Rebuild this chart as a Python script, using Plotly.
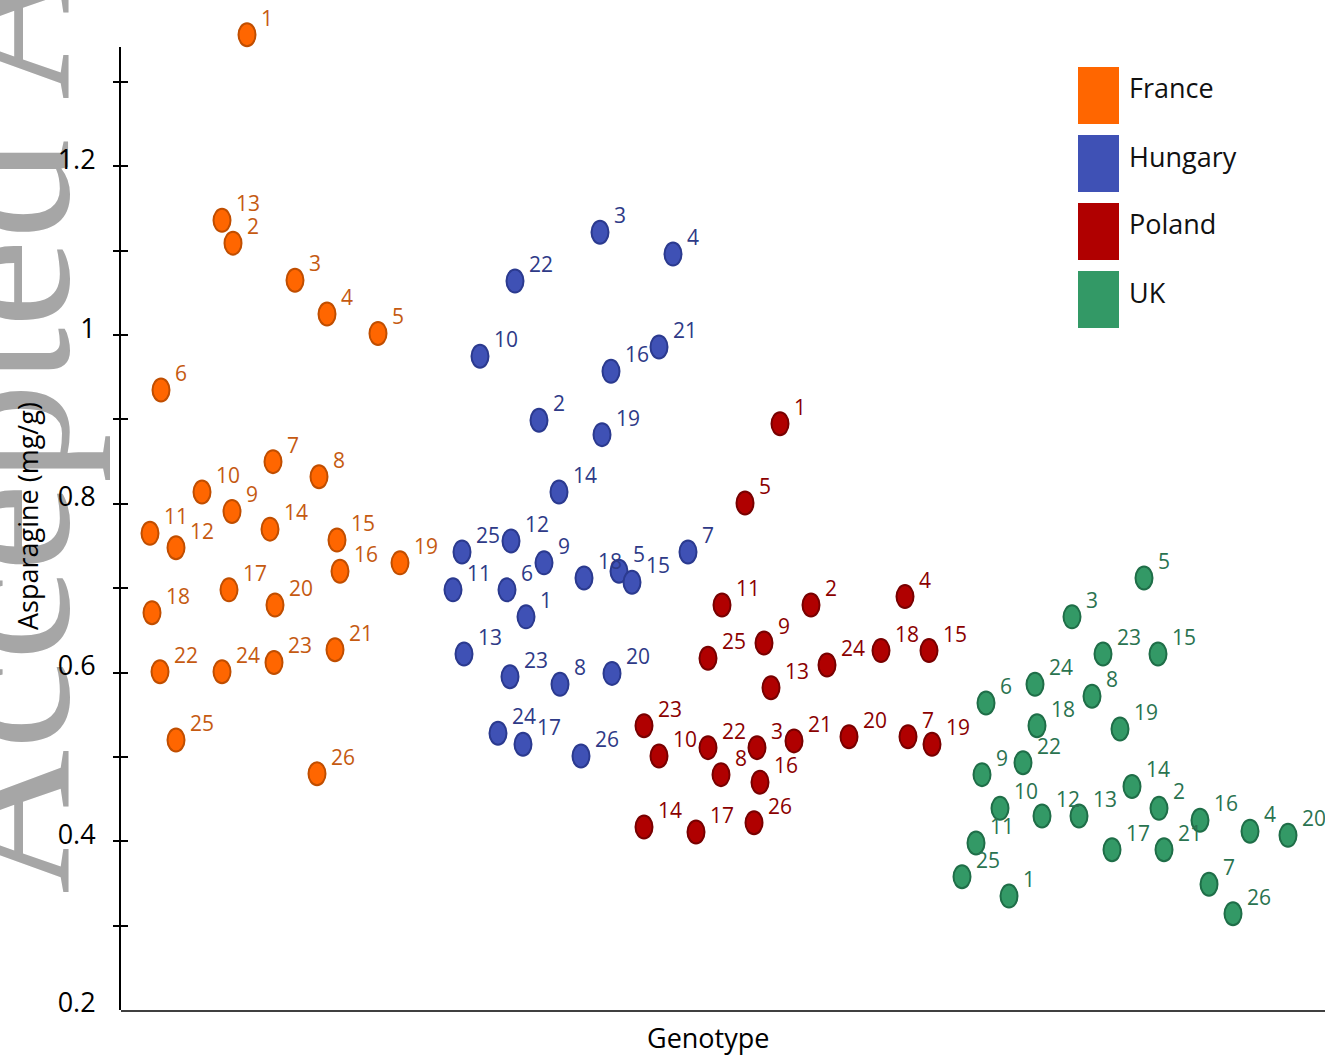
import plotly.graph_objects as go

# ---------------- data ----------------
countries = ["France", "Hungary", "Poland", "UK"]

france_ids = list(range(1, 27))
france_x = [12.6, 11.2, 17.4, 20.6, 25.7, 4.0, 15.2, 19.8, 11.1, 8.1, 2.9, 5.5, 10.1,
            14.9, 21.6, 21.9, 10.8, 3.1, 27.9, 15.4, 21.4, 3.9, 15.3, 10.1, 5.5, 19.6]
france_y = [1.356, 1.109, 1.065, 1.025, 1.002, 0.935, 0.850, 0.832, 0.791, 0.814, 0.765, 0.748, 1.136,
            0.770, 0.757, 0.720, 0.698, 0.671, 0.730, 0.680, 0.627, 0.601, 0.612, 0.601, 0.520, 0.480]

hungary_ids = list(range(1, 27))
hungary_x = [40.5, 41.8, 47.9, 55.2, 49.8, 38.6, 56.7, 43.9, 42.3, 35.9, 33.2, 39.0, 34.3,
             43.8, 51.1, 49.0, 40.2, 46.3, 48.1, 49.1, 53.8, 39.4, 38.9, 37.7, 34.1, 46.0]
hungary_y = [0.666, 0.899, 1.122, 1.096, 0.720, 0.698, 0.743, 0.586, 0.730, 0.975, 0.698, 0.756, 0.622,
             0.814, 0.707, 0.957, 0.515, 0.712, 0.882, 0.599, 0.986, 1.064, 0.595, 0.528, 0.743, 0.501]

poland_ids = [1, 2, 3, 4, 5, 7, 8, 9, 10, 11, 13, 14, 15, 16, 17, 18, 19, 20, 21, 22, 23, 24, 25, 26]
poland_x = [65.9, 69.0, 63.6, 78.4, 62.4, 78.7, 60.0, 64.3, 53.8, 60.1, 65.0, 52.3,
            80.8, 63.9, 57.5, 76.0, 81.1, 72.8, 67.3, 58.7, 52.3, 70.6, 58.7, 63.3]
poland_y = [0.895, 0.680, 0.511, 0.690, 0.801, 0.524, 0.479, 0.635, 0.501, 0.680, 0.582, 0.417,
            0.626, 0.470, 0.411, 0.626, 0.515, 0.524, 0.519, 0.511, 0.537, 0.609, 0.617, 0.422]

uk_ids = list(range(1, 27))
uk_x = [88.8, 103.8, 95.1, 112.9, 102.3, 86.5, 108.8, 97.1, 86.1, 87.9, 85.5, 92.1, 95.8,
        101.1, 103.7, 107.9, 99.1, 91.6, 99.9, 116.7, 104.3, 90.2, 98.2, 91.4, 84.1, 111.2]
uk_y = [0.335, 0.439, 0.666, 0.412, 0.712, 0.564, 0.349, 0.572, 0.479, 0.439, 0.398, 0.430, 0.430,
        0.465, 0.622, 0.425, 0.390, 0.537, 0.533, 0.407, 0.390, 0.493, 0.622, 0.586, 0.358, 0.314]

y_tick_values = [0.2, 0.4, 0.6, 0.8, 1.0, 1.2]
y_tick_labels = ["0.2", "0.4", "0.6", "0.8", "1", "1.2"]
y_minor_values = [0.3, 0.4, 0.5, 0.6, 0.7, 0.8, 0.9, 1.0, 1.1, 1.2, 1.3]

x_title = "Genotype"
y_title = "Asparagine (mg/g)"
watermark = "Accepted Article"

# ---------------- styles ----------------
fill_colors = ["#FF6600", "#3F51B5", "#B00000", "#339966"]
edge_colors = ["#C04E00", "#2B3A8F", "#780000", "#1F6E48"]
label_colors = ["#C55A11", "#2E3A87", "#8B0000", "#2A7350"]
FONT = "Open Sans"

W, H = 1325, 1056
ML, MB = 121, 46
PW, PH = W - ML, H - MB


def paper_x(px):
    return (px - ML) / PW


def paper_y(py):
    return (PH - py) / PH


X_RANGE = [0, 120.4]
Y_MIN = 0.2
Y_AXIS_TOP = 1.3415
Y_TOP = 1.3972
axis_domain_top = (Y_AXIS_TOP - Y_MIN) / (Y_TOP - Y_MIN)

WM_SIZE = 200

series = [
    (france_ids, france_x, france_y),
    (hungary_ids, hungary_x, hungary_y),
    (poland_ids, poland_x, poland_y),
    (uk_ids, uk_x, uk_y),
]

fig = go.Figure()
shapes = []
annotations = []

# watermark as a label of an invisible shape in the lowest layer (under axes texts)
shapes.append(dict(
    type="rect", xref="paper", yref="paper", layer="below",
    x0=paper_x(68 - WM_SIZE - 3), x1=paper_x(0), y0=paper_y(894), y1=paper_y(-600),
    line=dict(width=0), fillcolor="rgba(0,0,0,0)",
    label=dict(text=watermark, textangle=-90, textposition="bottom left",
               xanchor="left", yanchor="top", padding=0,
               font=dict(family="Liberation Serif", size=WM_SIZE, color="#A6A6A6")),
))

for i, (ids, xs, ys) in enumerate(series):
    fig.add_trace(go.Scatter(
        x=xs, y=ys, mode="markers", name=countries[i],
        text=[str(v) for v in ids],
        marker=dict(size=16, color=fill_colors[i], line=dict(color=edge_colors[i], width=1)),
        showlegend=False, cliponaxis=False,
        hovertemplate=countries[i] + " %{text}: %{y}<extra></extra>",
    ))
    for gid, xv, yv in zip(ids, xs, ys):
        shapes.append(dict(
            type="circle", xref="x", yref="y", xsizemode="pixel", ysizemode="pixel",
            xanchor=xv, yanchor=yv, x0=-8.5, x1=8.5, y0=-11.5, y1=11.5,
            fillcolor=fill_colors[i], line=dict(color=edge_colors[i], width=2), layer="above",
        ))
        annotations.append(dict(
            text=str(gid), x=xv, y=yv, xref="x", yref="y",
            xanchor="left", yanchor="middle", xshift=13, yshift=17, showarrow=False,
            borderpad=0,
            font=dict(family=FONT, size=21, color=label_colors[i]),
        ))

# helper (empty) traces so that the visible y axes are drawn
for ax in ["y2", "y3", "y4"]:
    fig.add_trace(go.Scatter(x=[None], y=[None], yaxis=ax, showlegend=False, hoverinfo="skip"))

# custom legend: tall coloured swatches
for i, name in enumerate(countries):
    top = 67 + i * 68
    shapes.append(dict(
        type="rect", xref="paper", yref="paper",
        x0=paper_x(1078), x1=paper_x(1119), y0=paper_y(top + 57), y1=paper_y(top),
        fillcolor=fill_colors[i], line=dict(width=0), layer="above",
    ))
    annotations.append(dict(
        text=name, xref="paper", yref="paper", x=paper_x(1127), y=paper_y(top + 21),
        xanchor="left", yanchor="middle", showarrow=False,
        font=dict(family=FONT, size=27, color="#111111"),
    ))

# axis titles
annotations.append(dict(
    text=y_title, xref="paper", yref="paper", x=paper_x(27), y=paper_y(516),
    xanchor="center", yanchor="middle", textangle=-90, showarrow=False,
    font=dict(family=FONT, size=27, color="#000000"),
))
annotations.append(dict(
    text=x_title, xref="paper", yref="paper", x=paper_x(708), y=paper_y(1037),
    xanchor="center", yanchor="middle", showarrow=False,
    font=dict(family=FONT, size=27, color="#000000"),
))

common_y = dict(showgrid=False, zeroline=False)

fig.update_layout(
    width=W, height=H,
    margin=dict(l=ML, r=0, t=0, b=MB, pad=0),
    paper_bgcolor="white", plot_bgcolor="rgba(0,0,0,0)",
    font=dict(family=FONT, color="#000000"),
    showlegend=False,
    xaxis=dict(range=X_RANGE, domain=[0, 1], anchor="y", showline=True, linecolor="#404040",
               linewidth=2, ticks="", showticklabels=False, showgrid=False, zeroline=False),
    yaxis=dict(range=[Y_MIN, Y_TOP], domain=[0, 1], anchor="x", showline=False,
               showticklabels=False, ticks="", **common_y),
    yaxis2=dict(range=[Y_MIN, Y_AXIS_TOP], domain=[0, axis_domain_top], anchor="x", side="left",
                showline=True, linecolor="#000000", linewidth=2, ticks="",
                tickmode="array", tickvals=y_tick_values, ticktext=y_tick_labels,
                tickfont=dict(family=FONT, size=27, color="#000000"),
                ticklabelstandoff=18, ticklabelshift=-7, **common_y),
    yaxis3=dict(range=[Y_MIN, Y_AXIS_TOP], overlaying="y2", anchor="x", side="left",
                showline=False, ticks="outside", ticklen=7, tickwidth=2, tickcolor="#000000",
                tickmode="array", tickvals=y_minor_values, showticklabels=False, **common_y),
    yaxis4=dict(range=[Y_MIN, Y_AXIS_TOP], overlaying="y2", anchor="x", side="left",
                showline=False, ticks="inside", ticklen=7, tickwidth=2, tickcolor="#000000",
                tickmode="array", tickvals=y_minor_values, showticklabels=False, **common_y),
    shapes=shapes,
    annotations=annotations,
)

fig.write_html("out.html")
